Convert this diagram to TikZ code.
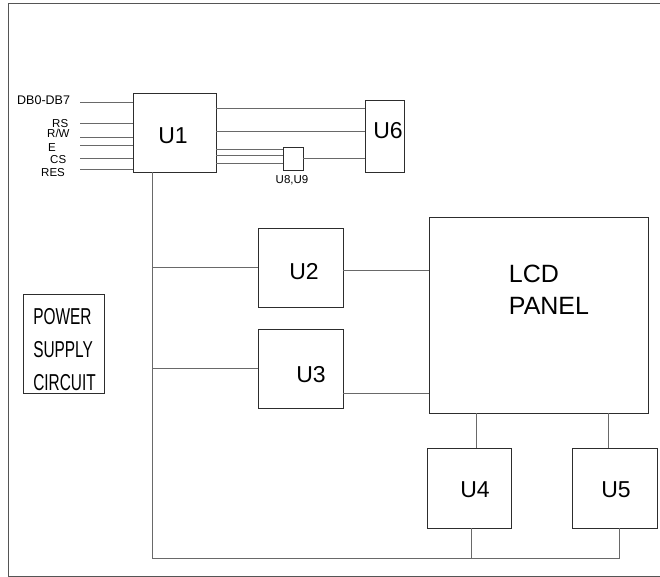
\documentclass[tikz,border=0pt]{standalone}
\usepackage{fontspec}
\setmainfont{Liberation Sans}
\newfontfamily\narrowfont[FakeStretch=0.67]{Liberation Sans}
\definecolor{boxgray}{RGB}{45,45,45}
\definecolor{wiregray}{RGB}{105,105,105}
\definecolor{framegray}{RGB}{85,85,85}

\begin{document}
\begin{tikzpicture}[
    x=1pt,
    y=-1pt,
    line cap=butt,
    wire/.style={draw=wiregray,line width=0.9pt},
    ubox/.style={draw=boxgray,line width=0.9pt,inner sep=0pt},
    utext/.style={font=\fontsize{23}{23}\selectfont},
    bigtext/.style={font=\fontsize{25}{32}\selectfont,align=left},
    psutext/.style={font=\narrowfont\fontsize{23}{33}\selectfont,align=left},
    sig/.style={anchor=base west,inner sep=0pt,font=\fontsize{11.5}{11.5}\selectfont}
]
\useasboundingbox (0,0) rectangle (660,577);

% Outer frame, open on the right
\draw[framegray,line width=0.9pt] (660,3.5) -- (8,3.5) -- (8,576) -- (660,576);

% Blocks
\node[ubox,minimum width=83pt,minimum height=79pt,
      label={[utext,xshift=-1.5pt,yshift=-3pt]center:U1}] (u1) at (174.5,132.5) {};
\node[ubox,minimum width=39pt,minimum height=72pt,
      label={[utext,xshift=3.5pt,yshift=5pt]center:U6}] (u6) at (384.5,136) {};
\node[ubox,minimum width=20pt,minimum height=23pt] (u8) at (293,158.5) {};
\node[ubox,minimum width=85pt,minimum height=79pt,
      label={[utext,xshift=3.5pt,yshift=-4.5pt]center:U2}] (u2) at (300.5,267.5) {};
\node[ubox,minimum width=85pt,minimum height=79pt,
      label={[utext,xshift=10.5pt,yshift=-6.5pt]center:U3}] (u3) at (300.5,368.5) {};
\node[ubox,minimum width=219pt,minimum height=196pt,
      label={[bigtext,xshift=10.5pt,yshift=25pt]center:{LCD\\PANEL}}] (lcd) at (538.5,315) {};
\node[ubox,minimum width=84pt,minimum height=80pt,
      label={[utext,xshift=6pt,yshift=-2pt]center:U4}] (u4) at (469,488) {};
\node[ubox,minimum width=85pt,minimum height=80pt,
      label={[utext,xshift=1.5pt,yshift=-2pt]center:U5}] (u5) at (614.5,488) {};
\node[ubox,minimum width=81pt,minimum height=99pt,
      label={[psutext,xshift=1pt,yshift=-6pt]center:{POWER\\SUPPLY\\CIRCUIT}}] (psu) at (63.5,343.5) {};

% Signal inputs of U1
\foreach \n/\y in {db/102,rs/123,rw/137,e/145,cs/158,res/169}{
    \coordinate (\n) at (80,\y);
    \draw[wire] (\n) -- (\n -| u1.west);
}
\node[sig,font=\fontsize{12.5}{12.5}\selectfont] (ldb) at (17,105) {DB0-DB7};
\node[sig] (lrs)  at (52,127.8) {RS};
\node[sig] (lrw)  at (47,137.8) {R/W};
\node[sig] (le)   at (48,151.5) {E};
\node[sig] (lcs)  at (50,163.3) {CS};
\node[sig] (lres) at (41,176.7) {RES};

% U1 to U6 and U8,U9
\foreach \y in {108,131}{
    \draw[wire] (u1.east |- 0,\y) -- (u6.west |- 0,\y);
}
\foreach \y in {149,155,163}{
    \draw[wire] (u1.east |- 0,\y) -- (u8.west |- 0,\y);
}
\draw[wire] (u8.east |- 0,158) -- (u6.west |- 0,158);
\node[sig,anchor=center] (lu8) at (292,180) {U8,U9};

% Common bus
\coordinate (bus) at (152,558);
\draw[wire] (u1.south -| bus) -- (bus) -| ([xshift=4.5pt]u5.south);
\draw[wire] ([xshift=2pt]u4.south) -- ([xshift=2pt]u4.south |- bus);
\draw[wire] (u2.west -| bus) -- (u2.west);
\draw[wire] (u3.west -| bus) -- (u3.west);

% Drivers to the panel
\draw[wire] ([yshift=-2.5pt]u2.east) -- ([yshift=-2.5pt]u2.east -| lcd.west);
\draw[wire] ([yshift=-24.5pt]u3.east) -- ([yshift=-24.5pt]u3.east -| lcd.west);
\draw[wire] ([xshift=7pt]u4.north) -- ([xshift=7pt]u4.north |- lcd.south);
\draw[wire] ([xshift=-6.5pt]u5.north) -- ([xshift=-6.5pt]u5.north |- lcd.south);

\end{tikzpicture}
\end{document}
